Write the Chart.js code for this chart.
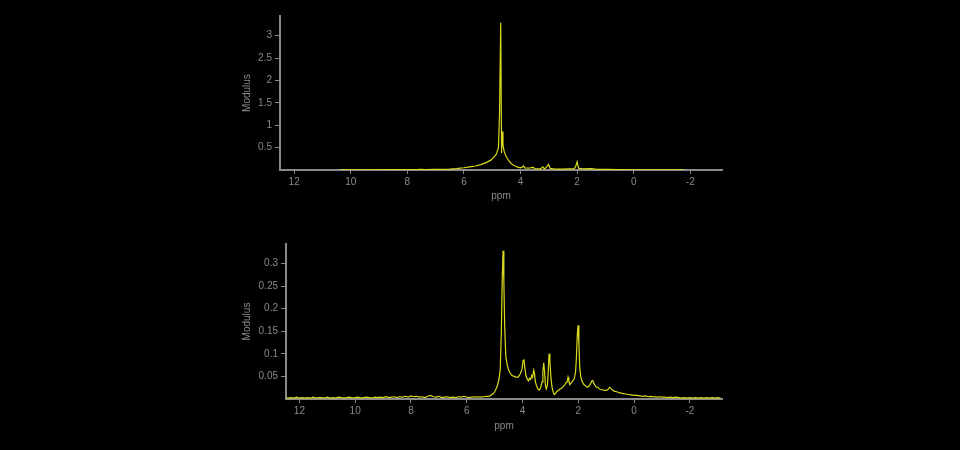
<!DOCTYPE html>
<html><head><meta charset="utf-8">
<script src="https://cdn.jsdelivr.net/npm/chart.js@4/dist/chart.umd.min.js"></script>
<style>
html,body{margin:0;padding:0;background:#000;width:960px;height:450px;overflow:hidden}
canvas{position:absolute;left:0}
#c1{top:0}#c2{top:225px}
</style></head><body>
<canvas id="c1" width="960" height="225"></canvas>
<canvas id="c2" width="960" height="225"></canvas>
<script>
const topPpm = [10.4,9.5,8.5,7.6,7.5,7.4,7.0,6.5,6.25,6.2,6.0,5.8,5.6,5.4,5.2,5.05,4.95,4.85,4.78,4.74,4.70,4.67,4.645,4.62,4.58,4.52,4.45,4.38,4.3,4.2,4.1,4.0,3.93,3.89,3.85,3.7,3.62,3.54,3.5,3.3,3.21,3.15,3.05,3.01,2.95,2.8,2.5,2.3,2.1,2.05,2.0,1.95,1.8,1.5,1.3,1.0,0.5,0.0,-1.0,-1.8];
const topModulus = [0.005,0.006,0.007,0.012,0.015,0.01,0.014,0.02,0.03,0.035,0.05,0.07,0.09,0.12,0.17,0.22,0.28,0.36,0.5,1.3,3.29,0.38,0.86,0.56,0.42,0.32,0.24,0.18,0.13,0.09,0.065,0.05,0.07,0.09,0.045,0.04,0.055,0.06,0.03,0.025,0.07,0.02,0.09,0.125,0.035,0.02,0.02,0.025,0.03,0.08,0.185,0.04,0.025,0.03,0.015,0.012,0.008,0.006,0.004,0.003];

const bottomPpm = [12.5,12.4,12.3,12.2,12.1,12.0,11.9,11.8,11.7,11.6,11.5,11.4,11.3,11.2,11.1,11.0,10.9,10.8,10.7,10.6,10.5,10.4,10.3,10.2,10.1,10.0,9.9,9.8,9.7,9.6,9.5,9.4,9.3,9.2,9.1,9.0,8.9,8.8,8.7,8.6,8.5,8.4,8.3,8.2,8.1,8.0,7.9,7.8,7.7,7.6,7.5,7.4,7.3,7.2,7.1,7.0,6.9,6.8,6.7,6.6,6.5,6.4,6.3,6.2,6.1,6.0,5.9,5.8,5.7,5.6,5.5,5.4,5.3,5.2,
5.16,5.10,5.05,5.0,4.95,4.90,4.85,4.80,4.76,4.73,4.70,4.67,4.64,4.60,4.55,4.50,4.45,4.38,4.30,4.22,4.15,4.08,4.02,3.98,3.95,3.92,3.88,3.84,3.79,3.75,3.71,3.67,3.64,3.60,3.57,3.54,3.50,3.45,3.40,3.35,3.30,3.27,3.24,3.21,3.18,3.15,3.11,3.08,3.05,3.02,2.98,2.94,2.90,2.86,2.82,2.78,2.72,2.66,2.60,2.54,2.48,2.44,2.40,2.37,2.34,2.30,2.25,2.20,2.15,2.10,2.07,2.04,2.01,1.98,1.95,1.91,1.86,1.80,1.74,1.68,1.62,1.56,1.52,1.48,1.44,1.40,1.35,1.30,1.24,1.18,1.12,1.06,1.00,0.94,0.88,0.84,0.78,0.70,0.62,0.54,0.46,0.38,0.30,0.20,0.10,0.0,-0.1,-0.2,-0.3,-0.4,-0.5,-0.6,-0.7,-0.8,-0.9,-1.0,-1.1,-1.2,-1.3,-1.4,-1.5,-1.6,-1.7,-1.8,-1.9,-2.0,-2.1,-2.2,-2.3,-2.4,-2.5,-2.6,-2.7,-2.8,-2.9,-3.0,-3.1];
const bottomModulus = [0.003,0.002,0.003,0.002,0.004,0.002,0.003,0.002,0.003,0.002,0.004,0.002,0.003,0.003,0.002,0.004,0.002,0.003,0.002,0.004,0.003,0.002,0.003,0.004,0.002,0.003,0.004,0.002,0.003,0.004,0.003,0.002,0.004,0.003,0.004,0.003,0.005,0.003,0.004,0.005,0.003,0.005,0.004,0.006,0.004,0.007,0.005,0.006,0.004,0.005,0.003,0.006,0.008,0.005,0.004,0.006,0.003,0.004,0.005,0.003,0.004,0.003,0.005,0.004,0.006,0.004,0.003,0.005,0.004,0.005,0.004,0.005,0.006,0.006,
0.007,0.010,0.012,0.016,0.022,0.030,0.042,0.065,0.150,0.260,0.328,0.260,0.160,0.095,0.075,0.064,0.058,0.052,0.050,0.048,0.049,0.056,0.066,0.085,0.088,0.070,0.052,0.045,0.040,0.046,0.043,0.052,0.048,0.064,0.056,0.038,0.030,0.022,0.020,0.025,0.038,0.062,0.080,0.060,0.030,0.022,0.030,0.060,0.100,0.085,0.045,0.025,0.015,0.010,0.012,0.016,0.019,0.022,0.024,0.028,0.032,0.036,0.038,0.048,0.040,0.032,0.036,0.040,0.044,0.060,0.090,0.140,0.163,0.120,0.070,0.048,0.038,0.032,0.029,0.026,0.028,0.034,0.040,0.041,0.034,0.030,0.026,0.026,0.022,0.021,0.020,0.019,0.019,0.021,0.026,0.024,0.020,0.017,0.016,0.014,0.013,0.012,0.011,0.010,0.009,0.008,0.008,0.007,0.006,0.007,0.005,0.006,0.005,0.004,0.005,0.004,0.004,0.003,0.004,0.003,0.004,0.003,0.002,0.003,0.002,0.003,0.002,0.003,0.002,0.003,0.002,0.003,0.002,0.003,0.002,0.003,0.002];

const xTickValues = [12,10,8,6,4,2,0,-2];
const topYTicks = [0.5,1,1.5,2,2.5,3];
const bottomYTicks = [0.05,0.1,0.15,0.2,0.25,0.3];

const FONT = "'Liberation Sans', Arial, sans-serif";
const GREY = '#8a8a8a';
const LINE = 'rgb(218,218,28)';

function makeChart(id, ppm, vals, cfg) {
  const pts = ppm.map((p, i) => ({x: p, y: vals[i]}));
  return new Chart(document.getElementById(id), {
    type: 'line',
    data: {datasets: [{data: pts, borderColor: LINE, borderWidth: 1.2, pointRadius: 0, tension: 0, fill: false}]},
    options: {
      responsive: false, animation: false, events: [],
      layout: {padding: {left: 240, right: 238, top: cfg.padTop, bottom: cfg.padBottom}},
      plugins: {legend: {display: false}, tooltip: {enabled: false}},
      scales: {
        x: {
          type: 'linear', reverse: true, min: cfg.xMin, max: cfg.xMax,
          afterFit: s => { s.height = cfg.xH; },
          afterBuildTicks: s => { s.ticks = xTickValues.map(v => ({value: v})); },
          ticks: {color: GREY, font: {family: FONT, size: 10}, padding: 2, maxRotation: 0, autoSkip: false},
          grid: {display: true, drawOnChartArea: false, drawTicks: true, tickLength: 4, color: GREY},
          border: {display: true, color: GREY, width: 2},
          title: {display: true, text: 'ppm', color: GREY, font: {family: FONT, size: 10}, padding: {top: 0, bottom: 0}}
        },
        y: {
          type: 'linear', min: 0, max: cfg.yMax,
          afterFit: s => { s.width = cfg.yW; },
          afterBuildTicks: s => { s.ticks = cfg.yTicks.map(v => ({value: v})); },
          ticks: {color: GREY, font: {family: FONT, size: 10}, padding: 3, autoSkip: false,
                  callback: v => String(Number(v.toFixed(2)))},
          grid: {display: true, drawOnChartArea: false, drawTicks: true, tickLength: 5, color: GREY},
          border: {display: true, color: GREY, width: 2},
          title: {display: true, text: 'Modulus', color: GREY, font: {family: FONT, size: 10}, padding: {top: 1, bottom: 0}}
        }
      }
    }
  });
}

makeChart('c1', topPpm, topModulus, {padTop: 16, padBottom: 23, xH: 32, xMin: -3.12, xMax: 12.5, yMax: 3.44, yW: 40, yTicks: topYTicks});
makeChart('c2', bottomPpm, bottomModulus, {padTop: 19, padBottom: 18, xH: 33, xMin: -3.15, xMax: 12.48, yMax: 0.343, yW: 46, yTicks: bottomYTicks});
</script>
</body></html>
